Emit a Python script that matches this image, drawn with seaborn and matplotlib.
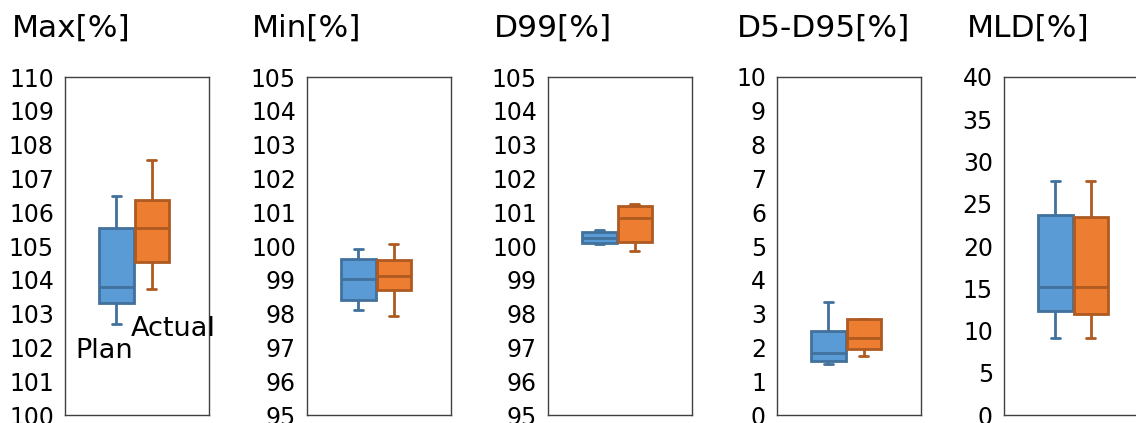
import matplotlib
matplotlib.use("Agg")
import matplotlib.pyplot as plt
import seaborn as sns
import numpy as np
import pandas as pd

# five-number summaries: low whisker, q1, median, q3, high whisker
metrics = ["Max[%]", "Min[%]", "D99[%]", "D5-D95[%]", "MLD[%]"]
groups = ["Plan", "Actual"]

plan_max = [102.68, 103.32, 103.80, 105.52, 106.48]
actual_max = [103.74, 104.52, 105.54, 106.36, 107.54]
plan_min = [98.11, 98.39, 99.03, 99.61, 99.92]
actual_min = [97.92, 98.69, 99.10, 99.58, 100.05]
plan_d99 = [100.06, 100.08, 100.23, 100.41, 100.46]
actual_d99 = [99.84, 100.11, 100.84, 101.19, 101.25]
plan_d5d95 = [1.50, 1.60, 1.83, 2.49, 3.35]
actual_d5d95 = [1.76, 1.96, 2.27, 2.85, 2.85]
plan_mld = [9.17, 12.25, 15.2, 23.7, 27.7]
actual_mld = [9.17, 11.98, 15.2, 23.4, 27.7]

y_limits = [(100, 110), (95, 105), (95, 105), (0, 10), (0, 40)]
y_steps = [1, 1, 1, 1, 5]

plan_vals = [plan_max, plan_min, plan_d99, plan_d5d95, plan_mld]
actual_vals = [actual_max, actual_min, actual_d99, actual_d5d95, actual_mld]

rows = []
for m, p, a in zip(metrics, plan_vals, actual_vals):
    rows += [{"metric": m, "group": "Plan", "value": v} for v in p]
    rows += [{"metric": m, "group": "Actual", "value": v} for v in a]
df = pd.DataFrame(rows)

sns.set_theme(style="white")
plt.rcParams["font.family"] = ["DejaVu Sans"]

fill_colors = {"Plan": "#5B9BD5", "Actual": "#ED7D31"}
edge_colors = ["#41719C", "#AE5A21"]

W, H = 1136, 423
fig = plt.figure(figsize=(W / 100, H / 100), dpi=100)

ax_left = [65, 307, 548, 777, 1004]
ax_width = 144
ax_top, ax_bottom = 77, 415
title_x = [12, 252, 494, 737, 967]

box_w = 0.49
gap = 0.03
cap_w = 0.065

for i, m in enumerate(metrics):
    ax = fig.add_axes([ax_left[i] / W, 1 - ax_bottom / H, ax_width / W, (ax_bottom - ax_top) / H])
    sub = df[df["metric"] == m]
    sns.boxplot(data=sub, x="metric", y="value", hue="group", hue_order=groups,
                palette=fill_colors, saturation=1, width=box_w, gap=gap,
                whis=(0, 100), linewidth=2, legend=False, ax=ax)

    # edge colours per group, shorter caps
    half = box_w / 2 * (1 - gap)
    for patch, ec in zip(ax.patches, edge_colors):
        patch.set_edgecolor(ec)
    for line in ax.lines:
        xd = np.asarray(line.get_xdata(), dtype=float)
        if len(xd) < 2:
            continue
        center = xd.mean()
        line.set_color(edge_colors[0] if center < 0 else edge_colors[1])
        yd = np.asarray(line.get_ydata(), dtype=float)
        span = abs(xd[-1] - xd[0])
        if yd[0] == yd[-1] and 0 < span < 0.9 * half:
            line.set_xdata([center - cap_w / 2, center + cap_w / 2])

    lo, hi = y_limits[i]
    ax.set_ylim(lo, hi)
    ax.set_yticks(np.arange(lo, hi + y_steps[i] / 2, y_steps[i]))
    ax.set_xlim(-0.48, 0.52)
    ax.set_xticks([])
    ax.set_xlabel("")
    ax.set_ylabel("")
    ax.tick_params(axis="y", length=0, pad=8, labelsize=17, labelcolor="black")
    for s in ax.spines.values():
        s.set_visible(True)
        s.set_color("#404040")
        s.set_linewidth(1.0)

    fig.text(title_x[i] / W, 1 - 37 / H, m, fontsize=22.5, color="black",
             ha="left", va="baseline")

# group labels in the first panel
fig.text(75 / W, 1 - 358 / H, "Plan", fontsize=19.5, color="black", ha="left", va="baseline")
fig.text(131 / W, 1 - 336 / H, "Actual", fontsize=19.5, color="black", ha="left", va="baseline")

fig.savefig("out.png", dpi=100)
